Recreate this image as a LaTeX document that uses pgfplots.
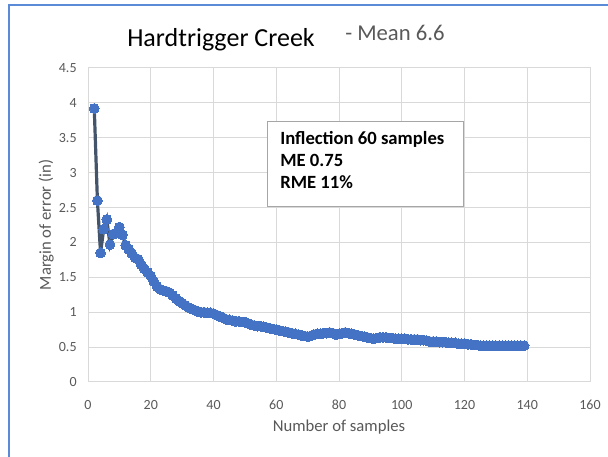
\documentclass[border=0pt]{standalone}
\usepackage{pgfplots}
\pgfplotsset{compat=1.18}
\usepackage{fontspec}
\setmainfont{Carlito}

\definecolor{gridgray}{HTML}{D9D9D9}
\definecolor{ticktext}{HTML}{595959}
\definecolor{markblue}{HTML}{4472C4}
\definecolor{linedark}{HTML}{44546A}
\definecolor{frameblue}{HTML}{5B8BD6}
\definecolor{boxgray}{HTML}{A6A6A6}

% 1 px of the reference = 0.75pt
\begin{document}
\begin{tikzpicture}[x=0.75pt,y=0.75pt]
\path[use as bounding box] (0,0) rectangle (608,457);
\draw[frameblue, line width=1.1pt] (9,0) -- (9,452) -- (608,452);

\begin{axis}[
  at={(66pt,56.25pt)}, anchor=south west,
  width=376.5pt, height=235.5pt, scale only axis,
  xmin=0, xmax=160, ymin=0, ymax=4.5,
  xtick={0,20,...,160},
  ytick={0,0.5,...,4.5},
  yticklabels={0,0.5,1,1.5,2,2.5,3,3.5,4,4.5},
  grid=major,
  major grid style={gridgray, line width=0.75pt},
  axis line style={gridgray, line width=0.75pt},
  major tick length=0pt,
  tick label style={font=\fontsize{10.5}{12}\selectfont, text=ticktext},
  /pgf/number format/assume math mode=true,
  xticklabel style={yshift=-10pt},
  yticklabel style={xshift=-5pt},
  xlabel={Number of samples},
  ylabel={Margin of error (in)},
  label style={font=\fontsize{12.5}{14}\selectfont, text=ticktext},
  xlabel style={yshift=-1pt},
  ylabel style={yshift=-3pt},
  clip=false,
]
\addplot[linedark, line width=2.4pt, mark=*, mark size=3.7pt,
  mark options={markblue, draw=markblue, line width=0pt}]
table {
x y
2 3.92
3 2.60
4 1.85
5 2.19
6 2.33
7 1.97
8 2.12
9 2.13
10 2.22
11 2.11
12 1.96
13 1.90
14 1.84
15 1.78
16 1.76
17 1.68
18 1.62
19 1.57
20 1.52
21 1.44
22 1.37
23 1.33
24 1.31
25 1.30
26 1.28
27 1.24
28 1.20
29 1.16
30 1.13
31 1.10
32 1.07
33 1.05
34 1.03
35 1.01
36 1.00
37 1.00
38 0.99
39 0.99
40 0.98
41 0.96
42 0.94
43 0.92
44 0.90
45 0.89
46 0.88
47 0.87
48 0.87
49 0.86
50 0.86
51 0.84
52 0.82
53 0.81
54 0.80
55 0.80
56 0.79
57 0.78
58 0.77
59 0.76
60 0.75
61 0.74
62 0.73
63 0.72
64 0.71
65 0.70
66 0.69
67 0.68
68 0.67
69 0.66
70 0.65
71 0.66
72 0.68
73 0.69
74 0.69
75 0.70
76 0.70
77 0.71
78 0.70
79 0.68
80 0.69
81 0.70
82 0.71
83 0.70
84 0.69
85 0.68
86 0.67
87 0.66
88 0.65
89 0.64
90 0.63
91 0.62
92 0.63
93 0.64
94 0.64
95 0.64
96 0.63
97 0.63
98 0.62
99 0.62
100 0.62
101 0.62
102 0.61
103 0.61
104 0.61
105 0.61
106 0.60
107 0.60
108 0.59
109 0.58
110 0.58
111 0.58
112 0.57
113 0.57
114 0.57
115 0.56
116 0.56
117 0.56
118 0.55
119 0.55
120 0.55
121 0.54
122 0.54
123 0.53
124 0.53
125 0.52
126 0.52
127 0.52
128 0.52
129 0.52
130 0.52
131 0.52
132 0.52
133 0.52
134 0.52
135 0.52
136 0.52
137 0.52
138 0.52
139 0.52
};
\end{axis}

% title
\node[anchor=base west, inner sep=0pt, font=\fontsize{19.5}{22}\selectfont]
  at (127,410) {Hardtrigger Creek};
\node[anchor=base west, inner sep=0pt, font=\fontsize{17}{20}\selectfont, text=ticktext]
  at (345,416) {- Mean 6.6};

% annotation box
\draw[boxgray, fill=white, line width=0.75pt] (267,250) rectangle (463,335);
\node[anchor=north west, align=left, inner sep=0pt,
  font=\bfseries\fontsize{14}{16.5}\selectfont]
  at (280,326) {Inflection 60 samples\\ME 0.75\\RME 11\%};
\end{tikzpicture}
\end{document}
